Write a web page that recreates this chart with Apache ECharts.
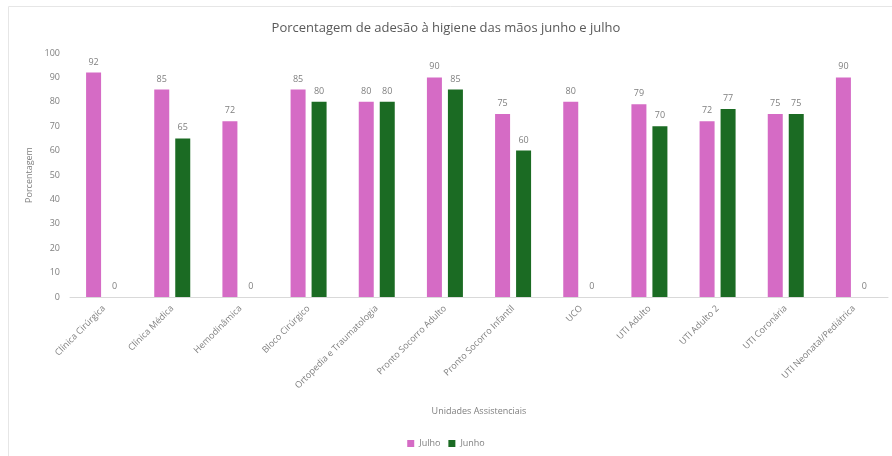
<!DOCTYPE html>
<html>
<head>
<meta charset="utf-8">
<script src="https://cdn.jsdelivr.net/npm/echarts@6/dist/echarts.min.js"></script>
<style>
  html, body { margin: 0; padding: 0; background: #fff; }
  #chart { width: 892px; height: 456px; }
</style>
</head>
<body>
<div id="chart"></div>
<script>
const categories = [
  "Clínica Cirúrgica",
  "Clínica Médica",
  "Hemodinâmica",
  "Bloco Cirúrgico",
  "Ortopedia e Traumatologia",
  "Pronto Socorro Adulto",
  "Pronto Socorro Infantil",
  "UCO",
  "UTI Adulto",
  "UTI Adulto 2",
  "UTI Coronária",
  "UTI Neonatal/Pediátrica"
];
const julho = [92, 85, 72, 85, 80, 90, 75, 80, 79, 72, 75, 90];
const junho = [0, 65, 0, 80, 80, 85, 60, 0, 70, 77, 75, 0];
const yTicks = { min: 0, max: 100, interval: 10 };

const textColor = "#7f7f7f";

let myChart = echarts.init(document.getElementById("chart"));
myChart.setOption({
  animation: false,
  color: ["#d56bc5", "#1b6b23"],
  title: {
    text: "Porcentagem de adesão à higiene das mãos junho e julho",
    left: "center",
    top: 17,
    textStyle: {
      fontFamily: "Open Sans",
      fontSize: 13,
      fontWeight: "normal",
      color: "#595959"
    }
  },
  graphic: [
    {
      type: "rect",
      shape: { x: 8.5, y: 6.5, width: 900, height: 460 },
      style: { fill: "none", stroke: "#e6e6e6", lineWidth: 1 },
      silent: true
    }
  ],
  legend: {
    data: ["Julho", "Junho"],
    bottom: 3,
    left: "center",
    itemWidth: 7,
    itemHeight: 7,
    itemGap: 8,
    icon: "rect",
    textStyle: { fontFamily: "Open Sans", fontSize: 9, color: textColor }
  },
  grid: {
    left: 70,
    right: 4,
    top: 53,
    bottom: 159
  },
  xAxis: {
    type: "category",
    data: categories,
    name: "Unidades Assistenciais",
    nameLocation: "middle",
    nameGap: 110,
    nameTextStyle: { fontFamily: "Open Sans", fontSize: 9, color: textColor },
    axisTick: { show: false },
    axisLine: { lineStyle: { color: "#d9d9d9" } },
    axisLabel: {
      interval: 0,
      rotate: 45,
      fontFamily: "Open Sans",
      fontSize: 9,
      color: textColor,
      margin: 10
    }
  },
  yAxis: {
    type: "value",
    min: yTicks.min,
    max: yTicks.max,
    interval: yTicks.interval,
    name: "Porcentagem",
    nameLocation: "middle",
    nameGap: 34,
    nameTextStyle: { fontFamily: "Open Sans", fontSize: 9, color: textColor },
    splitLine: { show: false },
    axisLine: { show: false },
    axisTick: { show: false },
    axisLabel: { fontFamily: "Open Sans", fontSize: 9, color: textColor, margin: 10 }
  },
  series: [
    {
      name: "Julho",
      type: "bar",
      barWidth: 15,
      barGap: "40%",
      data: julho,
      label: {
        show: true,
        position: "top",
        distance: 6,
        fontFamily: "Open Sans",
        fontSize: 9,
        color: textColor
      }
    },
    {
      name: "Junho",
      type: "bar",
      barWidth: 15,
      data: junho,
      label: {
        show: true,
        position: "top",
        distance: 6,
        fontFamily: "Open Sans",
        fontSize: 9,
        color: textColor
      }
    }
  ]
});
</script>
</body>
</html>
